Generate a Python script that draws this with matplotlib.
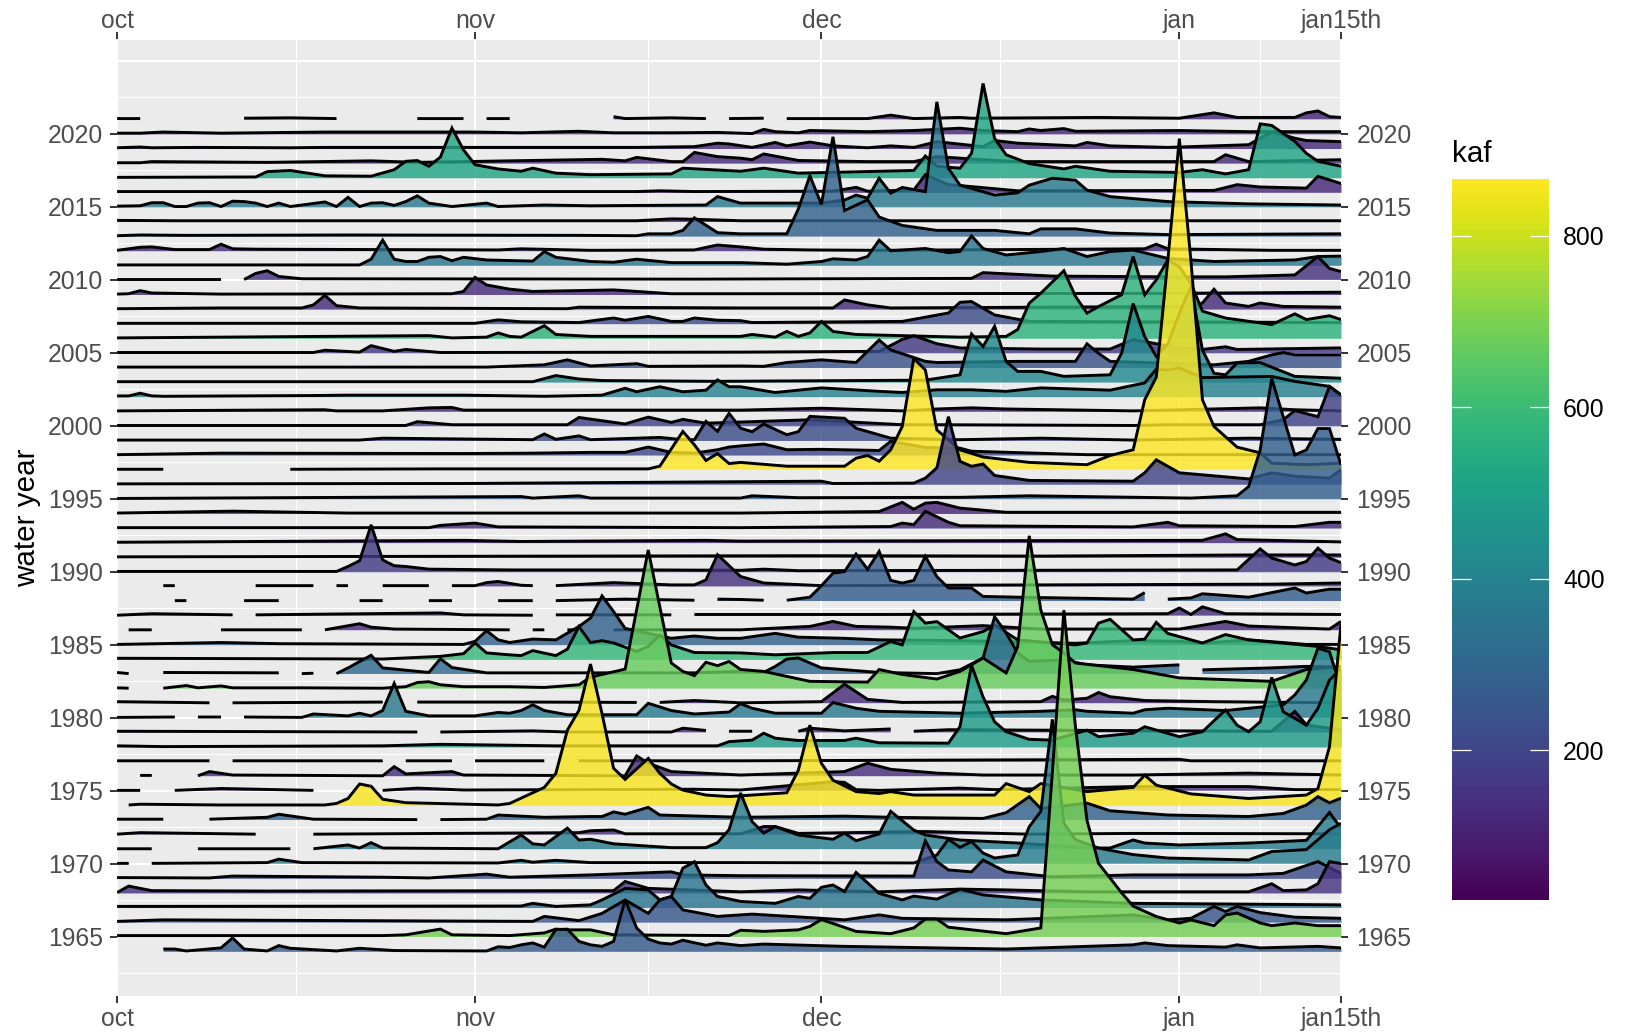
import numpy as np
import matplotlib
matplotlib.use('Agg')
import matplotlib.pyplot as plt
from matplotlib.cm import ScalarMappable
from matplotlib.colors import Normalize

plt.rcParams['font.family'] = ['Liberation Sans', 'DejaVu Sans']

nan = np.nan  # breaks the ridge where the record has no value

# ========================== DATA: (day since oct 1, kaf) ==========================
wy2021 = [(0,2),(2,2),(3,nan),(11,3),(15,4),(19,2),(22,nan),(26,2),(30,2),(31,nan),(32,2),(34,2),(38,nan),(43,7),(44,2),(48,4),(51,2),(52,nan),(53,2),(56,3),(57,nan),(58,2),(65,2),(67,11),(69,2),(73,5),(74,3),(85,5),(92,3),(95,17),(97,5),(102,5),(103,17),(104,22),(105,7),(106,5)]
wy2020 = [(0,2),(2,2),(4,5),(9,2),(18,5),(24,5),(31,5),(35,3),(40,7),(43,3),(48,3),(52,4),(55,1),(56,12),(57,6),(59,3),(60,9),(65,6),(69,9),(73,15),(75,9),(78,6),(79,13),(80,9),(82,14),(83,7),(92,9),(98,6),(106,6)]
wy2019 = [(0,2),(2,4),(3,2),(7,3),(15,2),(18,3),(30,3),(45,3),(50,5),(52,14),(53,12),(55,3),(57,16),(58,7),(60,17),(62,7),(65,2),(67,7),(69,3),(71,18),(75,5),(76,21),(78,14),(83,7),(84,16),(86,7),(91,3),(95,7),(98,10),(100,44),(102,27),(103,21),(106,18)]
wy2018 = [(0,1),(2,1),(3,4),(13,2),(22,6),(26,2),(42,10),(44,6),(45,15),(48,4),(49,4),(50,28),(52,17),(54,13),(55,9),(56,24),(59,7),(65,4),(69,4),(71,17),(75,9),(78,4),(95,4),(96,22),(98,4),(106,9)]
wy2017 = [(0,1),(12,2),(13,16),(15,19),(18,5),(22,4),(24,21),(25,43),(26,45),(27,30),(28,54),(29,130),(30,73),(31,34),(33,23),(35,17),(36,25),(38,12),(41,8),(48,10),(49,25),(54,17),(56,25),(59,12),(69,19),(70,57),(71,30),(73,25),(74,64),(75,247),(76,103),(77,60),(79,37),(82,23),(83,30),(86,17),(92,14),(94,21),(96,10),(98,21),(99,141),(100,137),(102,95),(103,64),(104,43),(106,30)]
wy2016 = [(0,2),(45,2),(47,4),(50,2),(62,3),(64,13),(65,3),(69,6),(70,46),(72,20),(74,15),(78,4),(95,5),(97,20),(99,14),(103,11),(104,42),(106,23)]
wy2015 = [(0,2),(2,3),(3,11),(4,11),(5,1),(6,1),(7,10),(8,11),(9,1),(10,15),(11,14),(12,10),(13,1),(14,10),(15,1),(18,13),(19,1),(20,25),(21,1),(22,10),(23,11),(24,4),(25,14),(26,29),(27,10),(29,1),(32,10),(33,1),(37,5),(41,3),(51,5),(52,27),(54,10),(59,10),(61,10),(63,18),(64,31),(65,23),(66,75),(67,36),(68,51),(70,40),(71,275),(72,101),(73,57),(76,31),(78,37),(79,57),(81,75),(83,70),(84,44),(86,27),(91,14),(98,8),(106,5)]
wy2014 = [(0,3),(5,2),(20,2),(45,2),(48,7),(50,6),(54,2),(106,2)]
wy2013 = [(0,1),(2,3),(6,2),(20,3),(40,2),(45,1),(46,6),(48,6),(49,15),(50,48),(52,9),(54,6),(58,6),(59,71),(60,158),(61,83),(62,260),(63,67),(65,95),(66,50),(68,28),(71,15),(76,15),(79,6),(80,19),(83,19),(86,8),(91,4),(106,6)]
wy2012 = [(0,1),(2,9),(3,10),(5,3),(8,3),(9,17),(10,5),(12,4),(33,2),(35,5),(41,1),(50,2),(52,15),(54,10),(56,4),(60,2),(66,1),(89,5),(90,17),(91,5),(100,1),(106,1)]
wy2011 = [(0,1),(21,1),(22,16),(23,66),(24,16),(25,10),(26,10),(27,21),(28,23),(29,12),(30,21),(32,14),(36,11),(37,36),(38,21),(41,10),(43,8),(45,16),(48,7),(54,7),(58,3),(61,10),(62,17),(64,14),(65,23),(66,66),(67,38),(70,44),(72,33),(73,36),(74,77),(75,44),(77,27),(80,36),(82,44),(84,23),(86,36),(88,40),(91,18),(95,10),(102,14),(104,23),(106,24)]
wy2010 = [(0,1),(9,1),(10,nan),(11,1),(12,17),(13,24),(14,9),(16,3),(50,2),(74,4),(75,19),(77,16),(81,10),(91,8),(96,8),(102,13),(104,61),(105,30),(106,22)]
wy2009 = [(0,1),(1,2),(2,10),(3,4),(9,1),(29,2),(30,8),(31,45),(32,25),(34,14),(36,8),(43,12),(48,2),(54,2),(91,3),(106,6)]
wy2008 = [(0,1),(9,3),(16,3),(17,11),(18,36),(19,9),(21,3),(39,1),(40,5),(54,3),(62,3),(63,24),(65,11),(67,3),(93,7),(94,16),(95,52),(96,16),(98,7),(99,16),(101,7),(106,5)]
wy2007 = [(0,1),(31,1),(33,10),(35,5),(40,3),(43,15),(44,9),(46,19),(48,6),(49,6),(50,15),(52,9),(54,8),(55,3),(68,6),(72,28),(73,56),(74,58),(76,23),(79,6),(106,3)]
wy2006 = [(0,1),(27,7),(29,1),(32,3),(33,14),(34,5),(35,3),(36,18),(37,33),(38,10),(41,5),(54,5),(55,10),(57,3),(58,18),(59,5),(60,14),(61,44),(62,18),(64,10),(73,3),(77,5),(78,23),(79,92),(80,118),(82,177),(83,110),(84,66),(85,83),(87,114),(88,214),(89,114),(90,153),(91,205),(92,187),(93,144),(94,71),(96,53),(100,36),(102,64),(103,49),(105,59),(106,49)]
wy2005 = [(0,1),(17,1),(18,7),(21,2),(22,19),(24,4),(25,9),(28,1),(54,2),(66,4),(68,35),(69,45),(71,24),(73,13),(80,10),(86,10),(88,35),(92,13),(94,9),(96,16),(97,9),(106,13)]
wy2004 = [(0,1),(32,1),(37,7),(39,20),(41,4),(45,10),(46,3),(54,4),(56,3),(58,13),(61,20),(64,13),(66,72),(67,46),(70,16),(71,13),(78,16),(83,16),(84,62),(85,37),(86,16),(95,7),(98,16),(100,33),(101,39),(102,33),(106,33)]
wy2003 = [(0,1),(36,1),(38,17),(40,8),(42,4),(52,2),(70,5),(73,19),(74,126),(75,93),(76,146),(77,54),(78,28),(80,28),(82,15),(86,19),(87,76),(88,206),(89,119),(90,67),(91,100),(92,180),(93,250),(94,84),(95,23),(96,19),(97,50),(99,51),(102,15),(106,10)]
wy2002 = [(0,2),(1,2),(2,9),(3,2),(4,1),(17,3),(20,4),(30,4),(37,1),(42,4),(44,22),(45,13),(47,26),(49,13),(51,17),(52,44),(53,26),(54,26),(57,11),(61,23),(66,14),(68,11),(71,18),(74,18),(77,14),(80,23),(86,17),(89,36),(90,72),(91,70),(92,75),(94,50),(100,53),(102,40),(105,27),(106,5)]
wy2001 = [(0,1),(18,4),(19,1),(23,1),(27,9),(29,10),(30,3),(54,3),(61,8),(68,1),(71,6),(74,9),(77,6),(88,1),(99,9),(102,4),(106,1)]
wy2000 = [(0,1),(25,1),(26,11),(29,3),(39,3),(40,22),(44,5),(46,23),(48,9),(49,17),(51,7),(54,10),(60,16),(63,11),(68,3),(71,3),(88,1),(91,3),(99,3),(101,16),(102,40),(104,24),(105,103),(106,81)]
wy1999 = [(0,1),(21,1),(23,6),(36,2),(37,17),(38,3),(40,12),(41,2),(47,8),(49,2),(50,2),(51,50),(52,24),(53,71),(54,32),(55,23),(56,43),(58,15),(59,23),(60,63),(63,58),(64,32),(67,6),(73,2),(80,6),(88,1),(98,6),(106,3)]
wy1998 = [(0,1),(9,5),(30,4),(36,5),(41,7),(44,7),(46,21),(48,7),(50,5),(52,14),(53,21),(54,24),(56,29),(58,14),(61,15),(66,12),(67,36),(70,20),(73,18),(74,10),(84,1),(88,1),(106,1)]
wy1997 = [(0,1),(4,1),(5,nan),(15,1),(28,2),(46,2),(47,9),(49,100),(50,65),(51,24),(52,42),(53,16),(54,19),(58,9),(63,9),(64,30),(65,37),(66,22),(67,52),(68,113),(69,291),(70,261),(71,104),(73,52),(75,33),(79,19),(84,13),(86,37),(88,52),(89,183),(90,242),(91,548),(92,867),(93,548),(94,183),(95,113),(97,59),(99,44),(100,17),(103,13),(106,17)]
wy1996 = [(0,1),(30,2),(61,8),(62,2),(69,3),(70,16),(71,43),(72,177),(73,60),(74,47),(75,53),(76,23),(79,10),(88,8),(89,30),(90,64),(92,30),(98,14),(100,30),(102,21),(105,16),(106,38)]
wy1995 = [(0,1),(35,6),(36,2),(40,8),(41,2),(54,2),(55,8),(59,3),(73,4),(79,8),(93,2),(97,8),(98,32),(99,128),(100,315),(102,115),(103,128),(104,184),(105,184),(106,89)]
wy1994 = [(0,1),(10,6),(20,1),(54,1),(66,5),(68,29),(69,11),(70,27),(71,29),(73,14),(77,3),(106,3)]
wy1993 = [(0,1),(27,1),(28,7),(31,13),(33,3),(54,1),(67,4),(68,13),(69,9),(70,44),(72,15),(73,6),(88,3),(91,15),(92,6),(102,4),(105,15),(106,15)]
wy1992 = [(0,1),(30,6),(35,3),(51,6),(54,4),(94,6),(96,23),(97,8),(106,2)]
wy1991 = [(0,1),(60,4),(80,3),(98,6),(106,6)]
wy1990 = [(0,1),(19,1),(20,14),(21,29),(22,123),(23,31),(24,16),(25,14),(27,7),(34,5),(46,5),(54,4),(56,7),(59,3),(97,5),(99,60),(100,36),(102,18),(103,27),(104,62),(105,36),(106,24)]
wy1989 = [(4,2),(5,2),(6,nan),(12,2),(17,2),(18,nan),(19,2),(20,2),(21,nan),(23,2),(27,2),(28,nan),(29,2),(31,2),(32,10),(33,13),(35,3),(36,2),(37,nan),(38,2),(43,10),(48,4),(50,4),(51,17),(52,83),(54,26),(56,9),(61,2),(80,4),(100,6),(106,9)]
wy1988 = [(5,1),(6,1),(7,nan),(11,1),(14,1),(15,nan),(21,1),(23,1),(24,nan),(27,1),(29,1),(30,nan),(33,1),(36,1),(37,nan),(38,1),(44,5),(50,2),(51,nan),(52,5),(54,4),(56,2),(57,nan),(58,2),(60,10),(61,40),(62,73),(63,77),(64,123),(65,83),(66,130),(67,54),(68,47),(69,54),(70,117),(71,64),(72,34),(74,34),(75,12),(78,10),(88,5),(89,22),(90,nan),(91,5),(93,8),(94,19),(98,10),(101,28),(102,34),(103,21),(105,31),(106,31)]
wy1987 = [(0,1),(3,5),(10,2),(11,nan),(12,2),(28,7),(30,2),(36,1),(37,nan),(38,2),(48,2),(49,nan),(50,3),(54,3),(66,3),(91,5),(92,20),(93,3),(94,23),(96,5),(106,3)]
wy1986 = [(1,1),(3,1),(4,nan),(9,1),(16,1),(17,nan),(18,1),(21,17),(22,8),(24,3),(34,1),(35,nan),(36,1),(37,1),(38,nan),(39,1),(40,1),(41,nan),(43,1),(54,1),(60,10),(62,23),(64,10),(67,8),(69,5),(75,12),(80,3),(92,3),(96,23),(98,11),(105,3),(106,23)]
wy1985 = [(0,1),(9,6),(14,3),(30,1),(31,9),(32,37),(33,13),(34,6),(36,15),(38,13),(40,48),(41,70),(42,128),(43,87),(44,43),(46,30),(48,17),(50,23),(52,17),(54,17),(57,30),(59,20),(63,17),(66,13),(73,11),(83,4),(88,11),(92,9),(94,4),(98,13),(103,1),(106,1)]
wy1984 = [(0,3),(23,1),(28,8),(30,15),(31,43),(32,17),(34,12),(35,10),(36,23),(38,10),(39,27),(40,86),(41,44),(42,49),(43,43),(45,21),(46,34),(47,64),(48,38),(50,18),(54,17),(57,12),(62,18),(65,18),(67,47),(68,38),(69,125),(70,95),(71,99),(73,56),(75,73),(76,90),(78,51),(83,38),(84,43),(85,95),(86,105),(88,51),(89,53),(90,97),(91,68),(94,43),(96,65),(98,51),(104,34),(106,25)]
wy1983 = [(0,4),(1,1),(2,nan),(4,4),(14,3),(15,nan),(16,1),(17,2),(18,nan),(19,1),(20,16),(22,49),(23,16),(27,4),(28,40),(29,17),(32,3),(50,3),(54,7),(56,4),(57,20),(58,39),(59,42),(61,16),(66,4),(71,1),(73,11),(75,42),(76,150),(77,107),(78,55),(79,33),(82,37),(84,24),(88,18),(92,24),(93,nan),(94,11),(100,16),(103,20),(106,18)]
wy1982 = [(0,2),(1,1),(2,nan),(4,1),(6,8),(7,2),(9,7),(10,2),(16,2),(23,1),(25,5),(26,16),(27,18),(28,10),(30,5),(34,5),(37,3),(40,10),(41,30),(42,37),(44,51),(46,363),(48,67),(49,45),(50,34),(51,69),(52,60),(53,71),(54,50),(56,45),(58,32),(60,19),(65,17),(66,50),(68,37),(71,25),(73,45),(75,80),(77,41),(78,110),(79,400),(80,206),(81,115),(82,93),(83,67),(88,50),(92,28),(100,19),(103,50),(106,58)]
wy1981 = [(0,4),(8,1),(9,nan),(10,1),(23,3),(24,nan),(26,3),(36,3),(45,2),(46,nan),(47,2),(50,7),(54,1),(61,4),(63,50),(65,10),(68,2),(80,4),(81,18),(82,8),(84,13),(85,28),(86,17),(89,7),(95,4),(106,1)]
wy1980 = [(0,1),(5,2),(6,nan),(7,2),(9,2),(10,nan),(11,2),(16,1),(17,10),(20,5),(21,12),(22,5),(23,19),(24,90),(25,17),(27,5),(31,5),(33,14),(34,12),(35,19),(36,34),(37,19),(39,8),(45,8),(46,38),(48,19),(50,10),(53,15),(54,37),(55,25),(57,12),(61,12),(62,40),(64,25),(66,17),(73,12),(80,17),(83,21),(84,17),(88,12),(89,21),(91,25),(96,19),(101,34),(102,60),(103,99),(104,182),(105,173),(106,77)]
wy1979 = [(0,3),(26,1),(27,nan),(28,1),(36,4),(39,1),(48,1),(49,11),(51,5),(52,nan),(53,3),(55,3),(56,nan),(59,3),(60,11),(63,4),(67,9),(68,nan),(69,3),(72,7),(99,3),(100,3),(101,29),(102,55),(103,20),(104,15),(106,7)]
wy1978 = [(0,3),(4,1),(23,3),(28,7),(38,3),(52,3),(53,14),(55,18),(56,36),(57,23),(59,17),(63,17),(64,23),(66,11),(72,10),(73,53),(74,214),(75,131),(76,66),(77,40),(79,20),(81,18),(84,44),(85,27),(88,36),(89,53),(92,27),(94,40),(96,97),(97,57),(98,40),(99,66),(100,182),(101,92),(102,75),(103,57),(104,101),(105,175),(106,205)]
wy1977 = [(0,2),(8,2),(9,nan),(10,2),(23,2),(24,nan),(25,2),(29,2),(30,nan),(31,2),(37,2),(38,nan),(40,2),(54,2),(92,6),(93,2),(106,2)]
wy1976 = [(2,2),(3,2),(4,nan),(7,1),(8,12),(10,3),(23,1),(24,25),(25,6),(29,12),(30,3),(44,1),(45,53),(46,34),(48,12),(54,3),(63,12),(65,34),(67,18),(71,8),(75,3),(88,3),(98,8),(106,3)]
wy1975 = [(0,1),(2,1),(3,nan),(5,1),(9,6),(17,1),(18,nan),(23,1),(26,7),(30,2),(50,4),(54,2),(62,24),(63,22),(64,3),(66,1),(73,7),(76,3),(88,11),(96,11),(98,11),(102,3),(106,3)]
wy1974 = [(1,1),(2,3),(9,1),(18,1),(19,5),(20,18),(21,56),(22,50),(23,16),(25,7),(33,1),(34,5),(36,33),(37,47),(38,84),(39,197),(40,249),(41,370),(42,240),(43,97),(44,68),(46,123),(47,84),(48,56),(49,40),(51,27),(53,23),(58,33),(59,92),(60,210),(61,110),(62,66),(64,36),(66,31),(67,36),(69,27),(76,27),(77,57),(79,36),(80,57),(84,36),(88,47),(89,79),(90,53),(93,30),(98,18),(103,27),(104,44),(105,153),(106,475)]
wy1973 = [(0,2),(4,2),(5,nan),(8,2),(13,7),(14,15),(17,2),(26,1),(27,nan),(28,1),(32,2),(33,13),(37,7),(41,9),(42,9),(43,21),(44,15),(46,33),(47,13),(54,7),(63,10),(67,7),(75,4),(77,19),(79,61),(80,30),(84,44),(86,24),(91,13),(98,9),(101,17),(103,39),(104,61),(105,45),(106,57)]
wy1972 = [(0,1),(2,5),(12,1),(13,nan),(17,1),(40,5),(41,10),(43,12),(44,2),(54,2),(56,21),(57,21),(59,3),(70,8),(79,1),(88,3),(106,2)]
wy1971 = [(0,1),(3,1),(4,nan),(7,1),(15,1),(16,nan),(17,1),(20,11),(21,3),(22,17),(23,3),(33,1),(35,37),(36,14),(37,11),(39,55),(40,24),(41,26),(43,14),(48,4),(51,4),(52,17),(53,51),(54,147),(55,72),(56,42),(57,59),(59,37),(62,26),(63,42),(64,22),(66,40),(67,99),(69,50),(70,37),(73,24),(78,16),(81,10),(84,3),(86,3),(88,24),(89,16),(92,11),(98,16),(103,23),(105,96),(106,55)]
wy1970 = [(0,1),(1,1),(2,nan),(3,1),(13,3),(14,12),(16,3),(33,2),(35,9),(36,4),(38,9),(41,3),(54,3),(69,2),(71,23),(72,64),(73,43),(74,58),(75,28),(76,15),(78,23),(79,97),(80,137),(81,378),(82,106),(83,63),(85,41),(88,24),(91,15),(98,10),(100,32),(103,37),(105,89),(106,106)]
wy1969 = [(0,2),(8,1),(10,6),(23,3),(27,1),(32,11),(34,3),(41,9),(48,17),(49,9),(54,7),(69,6),(70,98),(71,44),(72,22),(74,17),(75,48),(77,17),(81,4),(88,9),(98,9),(101,13),(104,44),(106,13)]
wy1968 = [(0,1),(1,18),(3,6),(13,5),(43,6),(44,30),(46,12),(54,3),(59,8),(66,3),(73,10),(77,8),(84,3),(98,3),(100,24),(101,6),(103,8),(104,24),(105,82),(106,77)]
wy1967 = [(0,3),(35,4),(36,11),(38,3),(41,7),(42,20),(44,50),(46,46),(47,20),(48,29),(49,103),(50,120),(51,59),(52,29),(54,16),(57,11),(59,29),(60,24),(61,53),(62,59),(63,42),(64,92),(66,37),(68,20),(69,30),(71,22),(73,48),(75,33),(80,20),(88,11),(106,7)]
wy1966 = [(0,2),(4,6),(36,2),(37,15),(40,4),(42,23),(44,58),(46,23),(47,58),(48,67),(49,32),(52,15),(54,19),(55,21),(61,10),(63,6),(66,19),(68,10),(77,6),(88,19),(91,6),(93,10),(95,41),(96,28),(97,41),(99,25),(102,13),(106,10)]
wy1965 = [(0,3),(2,3),(23,3),(25,5),(28,20),(29,5),(34,3),(37,10),(38,20),(39,18),(41,18),(43,5),(53,3),(54,17),(56,14),(59,18),(60,27),(61,45),(64,14),(67,8),(69,23),(70,46),(71,46),(72,25),(77,8),(80,23),(81,430),(82,855),(83,550),(84,305),(85,192),(87,115),(88,80),(90,53),(92,36),(93,44),(95,29),(96,57),(97,62),(99,36),(100,29),(102,36),(104,29),(106,29)]
wy1964 = [(4,6),(5,6),(6,1),(9,9),(10,35),(11,6),(13,1),(14,15),(15,8),(19,1),(21,8),(24,2),(32,1),(33,12),(34,10),(35,17),(36,22),(37,11),(38,57),(39,58),(40,26),(41,17),(42,13),(43,26),(44,135),(45,61),(46,32),(47,22),(48,19),(49,29),(51,16),(52,22),(54,15),(56,19),(63,13),(77,6),(88,17),(89,22),(91,15),(96,11),(97,17),(99,9),(104,13),(106,9)]

water_years = list(range(2021, 1963, -1))
ridges = [wy2021, wy2020, wy2019, wy2018, wy2017, wy2016, wy2015, wy2014, wy2013, wy2012,
          wy2011, wy2010, wy2009, wy2008, wy2007, wy2006, wy2005, wy2004, wy2003, wy2002,
          wy2001, wy2000, wy1999, wy1998, wy1997, wy1996, wy1995, wy1994, wy1993, wy1992,
          wy1991, wy1990, wy1989, wy1988, wy1987, wy1986, wy1985, wy1984, wy1983, wy1982,
          wy1981, wy1980, wy1979, wy1978, wy1977, wy1976, wy1975, wy1974, wy1973, wy1972,
          wy1971, wy1970, wy1969, wy1968, wy1967, wy1966, wy1965, wy1964]
# colour of each ridge, kaf, same order as water_years
fill_kaf = [110, 110, 130, 130, 520, 120, 370, 100, 290, 130,
            360, 150, 130, 130, 220, 570, 170, 240, 420, 400,
            110, 190, 220, 210, 867, 200, 280, 110, 130, 120,
            130, 170, 150, 270, 130, 130, 290, 590, 310, 670,
            130, 370, 130, 480, 100, 140, 130, 860, 290, 130,
            380, 380, 220, 150, 350, 250, 690, 260]

month_days = [0, 31, 61, 92, 106]
month_labels = ['oct', 'nov', 'dec', 'jan', 'jan15th']
minor_days = [15.5, 46, 76.5, 99]
year_ticks = list(range(1965, 2021, 5))
kaf_min, kaf_max = 26, 867
kaf_ticks = [200, 400, 600, 800]

# ========================== PLOT ==========================
W, H = 1628, 1035
fig = plt.figure(figsize=(W / 100, H / 100), dpi=100)
ax = fig.add_axes([117.1 / W, 1 - 995.7 / H, (1341 - 117.1) / W, (995.7 - 39.5) / H])
ax.set_facecolor('#EBEBEB')
for s in ax.spines.values():
    s.set_visible(False)
ax.set_xlim(0, 106)
ax.set_ylim(1960.96, 2026.47)

# panel grid
for d in month_days:
    ax.axvline(d, color='white', lw=1.5, zorder=0)
for d in minor_days:
    ax.axvline(d, color='white', lw=0.75, zorder=0)
for yr in range(1965, 2026, 5):
    ax.axhline(yr, color='white', lw=1.5, zorder=0)
for yr in np.arange(1962.5, 2023, 5):
    ax.axhline(yr, color='white', lw=0.75, zorder=0)

norm = Normalize(kaf_min, kaf_max)
cmap = plt.get_cmap('viridis')
height_scale = 0.382 / 14.6   # years of panel height per kaf

z = 2
for yr, ridge, c in zip(water_years, ridges, fill_kaf):
    arr = np.array(ridge, dtype=float)
    days, kaf = arr[:, 0], arr[:, 1]
    top = yr + kaf * height_scale
    ax.fill_between(days, yr, top, color=cmap(norm(c)), alpha=0.82, lw=0, zorder=z)
    ax.plot(days, top, color='black', lw=2.1, solid_joinstyle='miter', solid_capstyle='butt', zorder=z + 1)
    z += 2

tick_style = dict(length=5, width=1.4, color='#333333', labelcolor='#4D4D4D', labelsize=17.8)
ax.set_xticks(month_days, month_labels)
ax.set_yticks(year_ticks)
ax.tick_params(axis='x', pad=3, **tick_style)
ax.tick_params(axis='y', pad=5, **tick_style)
ax.set_ylabel('water year', fontsize=21.3, color='black', labelpad=5)

top_ax = ax.secondary_xaxis('top')
top_ax.set_xticks(month_days, month_labels)
top_ax.tick_params(axis='x', pad=0, **tick_style)
top_ax.spines['top'].set_visible(False)
right_ax = ax.secondary_yaxis('right')
right_ax.set_yticks(year_ticks)
right_ax.tick_params(axis='y', pad=6, **tick_style)
right_ax.spines['right'].set_visible(False)

# colour legend
cax = fig.add_axes([1452 / W, 1 - 899.5 / H, 97 / W, 721 / H])
sm = ScalarMappable(norm=norm, cmap=cmap)
cb = fig.colorbar(sm, cax=cax, ticks=kaf_ticks)
cb.outline.set_visible(False)
cb.ax.tick_params(length=0, labelsize=17.8, labelcolor='black', pad=10)
for t in kaf_ticks:
    cax.hlines(t, 0, 0.2, transform=cax.get_yaxis_transform(), color='white', lw=0.9)
    cax.hlines(t, 0.8, 1, transform=cax.get_yaxis_transform(), color='white', lw=0.9)
fig.text(1452 / W, 1 - 154 / H, 'kaf', fontsize=21.3, color='black', ha='left', va='center')

fig.savefig('out.png', dpi=100)
